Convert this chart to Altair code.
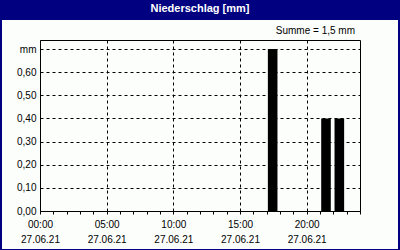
import altair as alt
import pandas as pd

# --- data ---
hours = [17, 21, 22]
values = [0.7, 0.4, 0.4]
date_label = "27.06.21"
title_text = "Niederschlag [mm]"
x_ticks = list(range(0, 25))
y_ticks = [0.0, 0.1, 0.2, 0.3, 0.4, 0.5, 0.6, 0.7]

df = pd.DataFrame({"hour": hours, "value": values})

NAVY = "#000080"
FONT = "Liberation Sans"

x_scale = alt.Scale(domain=[0, 24], nice=False, zero=False)
y_scale = alt.Scale(domain=[0, 0.739], nice=False)

x_axis = alt.Axis(
    values=x_ticks,
    title=None,
    tickSize=3,
    tickColor="black",
    domainColor="black",
    labelColor="black",
    labelFont=FONT,
    labelFontSize=10,
    labelPadding=5,
    labelLineHeight=15,
    labelFlush=False,
    labelOverlap=False,
    labelBaseline="top",
    labelExpr=(
        "(datum.value % 5 === 0 && datum.value < 24) ? "
        "[(datum.value < 10 ? '0' : '') + datum.value + ':00', '" + date_label + "'] : ''"
    ),
    grid=True,
    gridColor="black",
    gridDash=[3, 3],
    gridOpacity={
        "condition": {"test": "datum.value % 5 === 0 && datum.value > 0 && datum.value < 24", "value": 1},
        "value": 0,
    },
)

y_axis = alt.Axis(
    values=y_ticks,
    title=None,
    tickSize=0,
    domainColor="black",
    labelColor="black",
    labelFont=FONT,
    labelFontSize=10,
    labelPadding=4,
    labelExpr="datum.value > 0.69 ? 'mm' : replace(format(datum.value, '.2f'), '.', ',')",
    grid=True,
    gridColor="black",
    gridDash=[3, 3],
)

base = alt.Chart(df)

bars = base.transform_calculate(
    x1="datum.hour + 0.09", x2="datum.hour + 0.81"
).mark_rect(color="black").encode(
    x=alt.X("x1:Q", scale=x_scale, axis=x_axis),
    x2="x2:Q",
    y=alt.Y("value:Q", scale=y_scale, axis=y_axis),
    y2=alt.datum(0),
)

title_bar = base.mark_rect(color=NAVY).encode(
    x=alt.value(-40), x2=alt.value(360), y=alt.value(-40), y2=alt.value(-20)
)

frame = base.mark_rect(fillOpacity=0, stroke=NAVY, strokeWidth=2).encode(
    x=alt.value(-39), x2=alt.value(359), y=alt.value(-39), y2=alt.value(210)
)

title = base.transform_aggregate(n="count()").transform_calculate(
    t="'" + title_text + "'"
).mark_text(color="white", font=FONT, fontSize=11, fontWeight="bold", baseline="middle").encode(
    x=alt.value(160), y=alt.value(-31), text="t:N"
)

summe = base.transform_aggregate(total="sum(value)").transform_calculate(
    t="'Summe = ' + replace(format(datum.total, '.1f'), '.', ',') + ' mm'"
).mark_text(color="black", font=FONT, fontSize=10, align="right", baseline="middle").encode(
    x=alt.value(315), y=alt.value(-9), text="t:N"
)

chart = alt.layer(bars, title_bar, frame, title, summe).properties(
    width=320,
    height=171,
    autosize=alt.AutoSizeParams(type="none"),
    padding={"left": 40, "top": 40, "right": 40, "bottom": 39},
    background="#fcfefc",
).configure_view(stroke="black", strokeWidth=1)

chart.save("out.html", embed_options={"renderer": "svg", "actions": False})
